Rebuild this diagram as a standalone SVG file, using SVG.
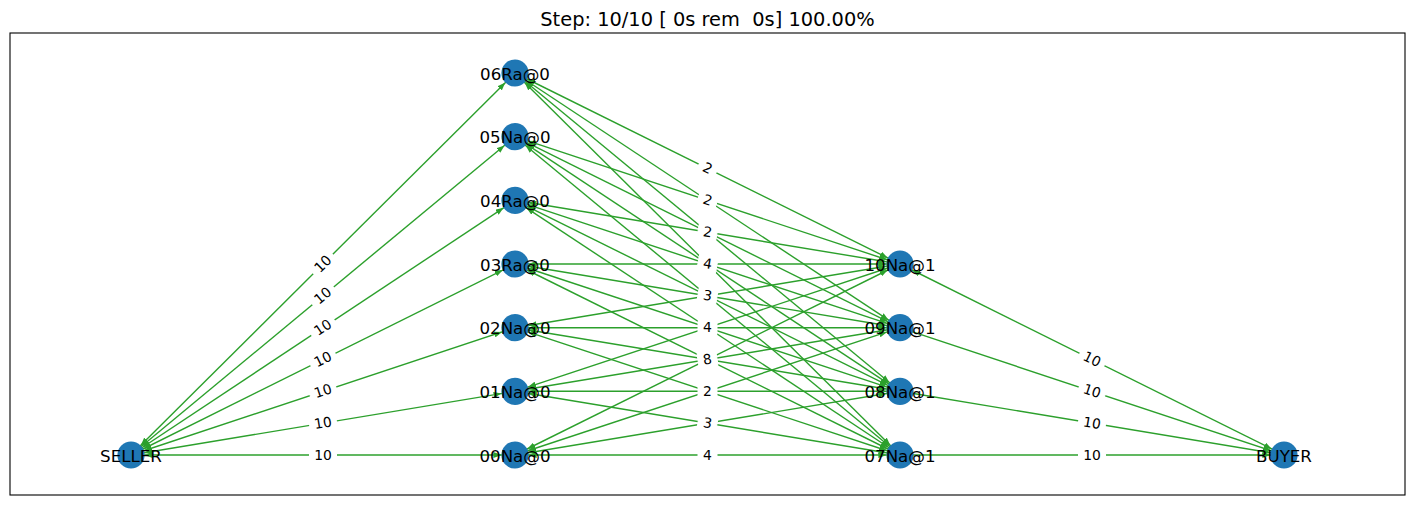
<svg xmlns="http://www.w3.org/2000/svg" width="1415" height="505" viewBox="0 0 1415 505">
  <style>
    .frame { fill: #ffffff; stroke: #000000; stroke-width: 1.1; }
    .title { font-family: "DejaVu Sans", sans-serif; font-size: 19.4px; fill: #000000; text-anchor: middle; white-space: pre; }
    .e { stroke: #2ca02c; stroke-width: 1.4; fill: none; }
    .bi { marker-start: url(#ah); marker-end: url(#ah); }
    .uni { marker-end: url(#ah); }
    .lbox { fill: #ffffff; stroke: #ffffff; stroke-width: 1; }
    .ltxt { font-family: "DejaVu Sans", sans-serif; font-size: 13.9px; fill: #000000; text-anchor: middle; }
    .dot { fill: #1f77b4; }
    .ntxt { font-family: "DejaVu Sans", sans-serif; font-size: 16.67px; fill: #000000; text-anchor: middle; }
  </style>
  <defs>
    <!-- filled head; tip sits on the node rim (radius 13.6) -->
    <marker id="ah" viewBox="0 0 8 6" refX="21.6" refY="3" markerWidth="8" markerHeight="6" markerUnits="userSpaceOnUse" orient="auto-start-reverse">
      <path d="M0,0 L8,3 L0,6 z" fill="#2ca02c"/>
    </marker>
  </defs>

  <rect width="1415" height="505" fill="#ffffff"/>
  <rect class="frame" x="10" y="33" width="1395" height="462"/>
  <text class="title" x="707.5" y="25.5" xml:space="preserve">Step: 10/10 [ 0s rem  0s] 100.00%</text>

  <g id="connectors">
    <!-- SELLER to first layer -->
    <line class="e bi" x1="131" y1="455" x2="515" y2="455"/>
    <line class="e bi" x1="131" y1="455" x2="515" y2="391.3"/>
    <line class="e bi" x1="131" y1="455" x2="515" y2="327.7"/>
    <line class="e bi" x1="131" y1="455" x2="515" y2="264"/>
    <line class="e bi" x1="131" y1="455" x2="515" y2="200.3"/>
    <line class="e bi" x1="131" y1="455" x2="515" y2="136.7"/>
    <line class="e bi" x1="131" y1="455" x2="515" y2="73"/>

    <!-- first layer to second layer -->
    <line class="e bi" x1="515" y1="455" x2="900" y2="455"/>
    <line class="e bi" x1="515" y1="455" x2="900" y2="391.3"/>
    <line class="e bi" x1="515" y1="455" x2="900" y2="327.7"/>
    <line class="e bi" x1="515" y1="455" x2="900" y2="264"/>
    <line class="e bi" x1="515" y1="391.3" x2="900" y2="455"/>
    <line class="e bi" x1="515" y1="391.3" x2="900" y2="391.3"/>
    <line class="e bi" x1="515" y1="391.3" x2="900" y2="327.7"/>
    <line class="e bi" x1="515" y1="391.3" x2="900" y2="264"/>
    <line class="e bi" x1="515" y1="327.7" x2="900" y2="455"/>
    <line class="e bi" x1="515" y1="327.7" x2="900" y2="391.3"/>
    <line class="e bi" x1="515" y1="327.7" x2="900" y2="327.7"/>
    <line class="e bi" x1="515" y1="327.7" x2="900" y2="264"/>
    <line class="e bi" x1="515" y1="264" x2="900" y2="455"/>
    <line class="e bi" x1="515" y1="264" x2="900" y2="391.3"/>
    <line class="e bi" x1="515" y1="264" x2="900" y2="327.7"/>
    <line class="e bi" x1="515" y1="264" x2="900" y2="264"/>
    <line class="e bi" x1="515" y1="200.3" x2="900" y2="455"/>
    <line class="e bi" x1="515" y1="200.3" x2="900" y2="391.3"/>
    <line class="e bi" x1="515" y1="200.3" x2="900" y2="327.7"/>
    <line class="e bi" x1="515" y1="200.3" x2="900" y2="264"/>
    <line class="e bi" x1="515" y1="136.7" x2="900" y2="455"/>
    <line class="e bi" x1="515" y1="136.7" x2="900" y2="391.3"/>
    <line class="e bi" x1="515" y1="136.7" x2="900" y2="327.7"/>
    <line class="e bi" x1="515" y1="136.7" x2="900" y2="264"/>
    <line class="e bi" x1="515" y1="73" x2="900" y2="455"/>
    <line class="e bi" x1="515" y1="73" x2="900" y2="391.3"/>
    <line class="e bi" x1="515" y1="73" x2="900" y2="327.7"/>
    <line class="e bi" x1="515" y1="73" x2="900" y2="264"/>

    <!-- second layer to BUYER -->
    <line class="e uni" x1="900" y1="455" x2="1284" y2="455"/>
    <line class="e uni" x1="900" y1="391.3" x2="1284" y2="455"/>
    <line class="e uni" x1="900" y1="327.7" x2="1284" y2="455"/>
    <line class="e bi" x1="900" y1="264" x2="1284" y2="455"/>
  </g>

  <g id="connector-labels">
    <!-- SELLER side -->
    <g transform="translate(323 455)"><rect class="lbox" x="-13.5" y="-10" width="27" height="20" rx="4"/><text class="ltxt" y="4.5">10</text></g>
    <g transform="translate(323 423.2) rotate(-9.4)"><rect class="lbox" x="-13.5" y="-10" width="27" height="20" rx="4"/><text class="ltxt" y="4.5">10</text></g>
    <g transform="translate(323 391.3) rotate(-18.4)"><rect class="lbox" x="-13.5" y="-10" width="27" height="20" rx="4"/><text class="ltxt" y="4.5">10</text></g>
    <g transform="translate(323 359.5) rotate(-26.4)"><rect class="lbox" x="-13.5" y="-10" width="27" height="20" rx="4"/><text class="ltxt" y="4.5">10</text></g>
    <g transform="translate(323 327.7) rotate(-33.6)"><rect class="lbox" x="-13.5" y="-10" width="27" height="20" rx="4"/><text class="ltxt" y="4.5">10</text></g>
    <g transform="translate(323 295.8) rotate(-39.6)"><rect class="lbox" x="-13.5" y="-10" width="27" height="20" rx="4"/><text class="ltxt" y="4.5">10</text></g>
    <g transform="translate(323 264) rotate(-44.8)"><rect class="lbox" x="-13.5" y="-10" width="27" height="20" rx="4"/><text class="ltxt" y="4.5">10</text></g>

    <!-- middle -->
    <g transform="translate(707.5 168.5) rotate(26.4)"><rect class="lbox" x="-9.5" y="-10" width="19" height="20" rx="4"/><text class="ltxt" y="4.5">2</text></g>
    <g transform="translate(707.5 200.3) rotate(18.3)"><rect class="lbox" x="-9.5" y="-10" width="19" height="20" rx="4"/><text class="ltxt" y="4.5">2</text></g>
    <g transform="translate(707.5 232.2) rotate(9.4)"><rect class="lbox" x="-9.5" y="-10" width="19" height="20" rx="4"/><text class="ltxt" y="4.5">2</text></g>
    <g transform="translate(707.5 264) rotate(9.4)"><rect class="lbox" x="-9.5" y="-10" width="19" height="20" rx="4"/><text class="ltxt" y="4.5">4</text></g>
    <g transform="translate(707.5 295.8) rotate(9.4)"><rect class="lbox" x="-9.5" y="-10" width="19" height="20" rx="4"/><text class="ltxt" y="4.5">3</text></g>
    <g transform="translate(707.5 327.7)"><rect class="lbox" x="-9.5" y="-10" width="19" height="20" rx="4"/><text class="ltxt" y="4.5">4</text></g>
    <g transform="translate(707.5 359.5) rotate(-9.4)"><rect class="lbox" x="-9.5" y="-10" width="19" height="20" rx="4"/><text class="ltxt" y="4.5">8</text></g>
    <g transform="translate(707.5 391.3)"><rect class="lbox" x="-9.5" y="-10" width="19" height="20" rx="4"/><text class="ltxt" y="4.5">2</text></g>
    <g transform="translate(707.5 423.2) rotate(9.4)"><rect class="lbox" x="-9.5" y="-10" width="19" height="20" rx="4"/><text class="ltxt" y="4.5">3</text></g>
    <g transform="translate(707.5 455)"><rect class="lbox" x="-9.5" y="-10" width="19" height="20" rx="4"/><text class="ltxt" y="4.5">4</text></g>

    <!-- BUYER side -->
    <g transform="translate(1092 455)"><rect class="lbox" x="-13.5" y="-10" width="27" height="20" rx="4"/><text class="ltxt" y="4.5">10</text></g>
    <g transform="translate(1092 423.2) rotate(9.4)"><rect class="lbox" x="-13.5" y="-10" width="27" height="20" rx="4"/><text class="ltxt" y="4.5">10</text></g>
    <g transform="translate(1092 391.3) rotate(18.4)"><rect class="lbox" x="-13.5" y="-10" width="27" height="20" rx="4"/><text class="ltxt" y="4.5">10</text></g>
    <g transform="translate(1092 359.5) rotate(26.4)"><rect class="lbox" x="-13.5" y="-10" width="27" height="20" rx="4"/><text class="ltxt" y="4.5">10</text></g>
  </g>

  <g id="node-SELLER"><circle class="dot" cx="131" cy="455" r="13.6"/><text class="ntxt" x="131" y="461.5">SELLER</text></g>
  <g id="node-00Na0"><circle class="dot" cx="515" cy="455" r="13.6"/><text class="ntxt" x="515" y="461.5">00Na@0</text></g>
  <g id="node-01Na0"><circle class="dot" cx="515" cy="391.3" r="13.6"/><text class="ntxt" x="515" y="397.8">01Na@0</text></g>
  <g id="node-02Na0"><circle class="dot" cx="515" cy="327.7" r="13.6"/><text class="ntxt" x="515" y="334.2">02Na@0</text></g>
  <g id="node-03Ra0"><circle class="dot" cx="515" cy="264" r="13.6"/><text class="ntxt" x="515" y="270.5">03Ra@0</text></g>
  <g id="node-04Ra0"><circle class="dot" cx="515" cy="200.3" r="13.6"/><text class="ntxt" x="515" y="206.8">04Ra@0</text></g>
  <g id="node-05Na0"><circle class="dot" cx="515" cy="136.7" r="13.6"/><text class="ntxt" x="515" y="143.2">05Na@0</text></g>
  <g id="node-06Ra0"><circle class="dot" cx="515" cy="73" r="13.6"/><text class="ntxt" x="515" y="79.5">06Ra@0</text></g>
  <g id="node-07Na1"><circle class="dot" cx="900" cy="455" r="13.6"/><text class="ntxt" x="900" y="461.5">07Na@1</text></g>
  <g id="node-08Na1"><circle class="dot" cx="900" cy="391.3" r="13.6"/><text class="ntxt" x="900" y="397.8">08Na@1</text></g>
  <g id="node-09Na1"><circle class="dot" cx="900" cy="327.7" r="13.6"/><text class="ntxt" x="900" y="334.2">09Na@1</text></g>
  <g id="node-10Na1"><circle class="dot" cx="900" cy="264" r="13.6"/><text class="ntxt" x="900" y="270.5">10Na@1</text></g>
  <g id="node-BUYER"><circle class="dot" cx="1284" cy="455" r="13.6"/><text class="ntxt" x="1284" y="461.5">BUYER</text></g>
</svg>
